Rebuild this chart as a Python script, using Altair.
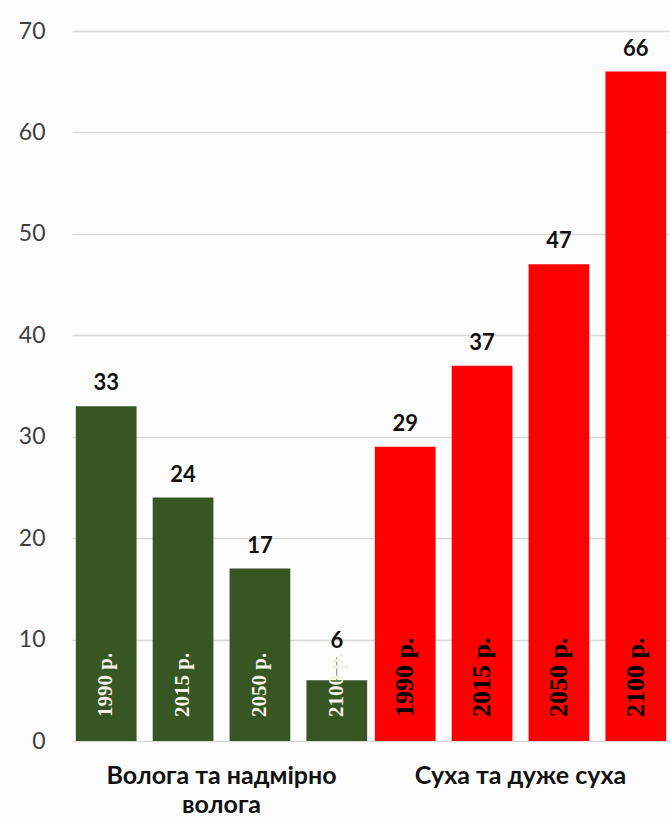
import altair as alt
import pandas as pd

# Share of territory by moisture class, %
groups = ["Волога та надмірно волога", "Суха та дуже суха"]
years = ["1990 р.", "2015 р.", "2050 р.", "2100 р."]
wet_values = [33, 24, 17, 6]
dry_values = [29, 37, 47, 66]
y_ticks = [0, 10, 20, 30, 40, 50, 60, 70]

rows = []
for g, vals in zip(groups, [wet_values, dry_values]):
    for yr, v in zip(years, vals):
        rows.append({"group": g, "year": yr, "value": v})
df = pd.DataFrame(rows)

GREEN = "#375623"
RED = "#ff0000"
SANS = "Lato"
SERIF = "Liberation Serif"

is_wet = f"datum.group == '{groups[0]}'"
wrap_expr = f"datum.label == '{groups[0]}' ? ['Волога та надмірно', 'волога'] : datum.label"

x = alt.X(
    "group:N",
    sort=groups,
    scale=alt.Scale(paddingInner=0, paddingOuter=0),
    axis=alt.Axis(
        title=None, labelAngle=0, domain=False, ticks=False,
        labelFont=SANS, labelFontWeight="bold", labelFontSize=25,
        labelColor="#111111", labelPadding=22, labelLineHeight=29,
        labelLimit=0, labelExpr=wrap_expr,
    ),
)
xo = alt.XOffset("year:N", sort=years,
                 scale=alt.Scale(paddingInner=0.21, paddingOuter=0.05))
y = alt.Y(
    "value:Q",
    scale=alt.Scale(domain=[0, 70]),
    axis=alt.Axis(
        title=None, values=y_ticks, grid=True, gridColor="#d9d9d9",
        gridWidth=1.5, domain=False, ticks=False, labelFont=SANS,
        labelFontSize=23, labelColor="#404040", labelPadding=27,
    ),
)

base = alt.Chart(df).encode(x=x, xOffset=xo)

bars = base.mark_bar().encode(
    y=y,
    color=alt.Color("group:N", scale=alt.Scale(domain=groups, range=[GREEN, RED]), legend=None),
)

# value labels; short bars get their label lifted with a leader line
labels = base.transform_calculate(
    label_y="datum.value < 10 ? datum.value + 1.6 : datum.value"
).mark_text(
    font=SANS, fontWeight="bold", fontSize=22, color="#111111",
    baseline="alphabetic", dy=-16,
).encode(y=alt.Y("label_y:Q"), text=alt.Text("value:Q"))

leaders = base.transform_filter("datum.value < 10").transform_calculate(
    lead_top="datum.value + 2.25"
).mark_rule(color="#7f7f7f", strokeWidth=1).encode(
    y=alt.Y("value:Q"), y2=alt.Y2("lead_top:Q")
)

# rotated year captions inside the bars
years_text = base.mark_text(
    font=SERIF, fontWeight="bold", angle=270, align="left",
    baseline="middle", dx=24,
).encode(
    y=alt.datum(0),
    text=alt.Text("year:N"),
    color=alt.condition(is_wet, alt.value("#f4f4e6"), alt.value("#000000")),
    size=alt.condition(is_wet, alt.value(21), alt.value(26)),
)

chart = alt.layer(bars, leaders, labels, years_text).properties(
    width=598,
    height=710,
    background="#fcfcfc",
    autosize=alt.AutoSizeParams(type="none"),
    padding={"left": 72, "top": 31, "right": 0, "bottom": 80},
).configure_view(stroke=None)

chart.save("out.html", embed_options={"renderer": "svg", "actions": False})
